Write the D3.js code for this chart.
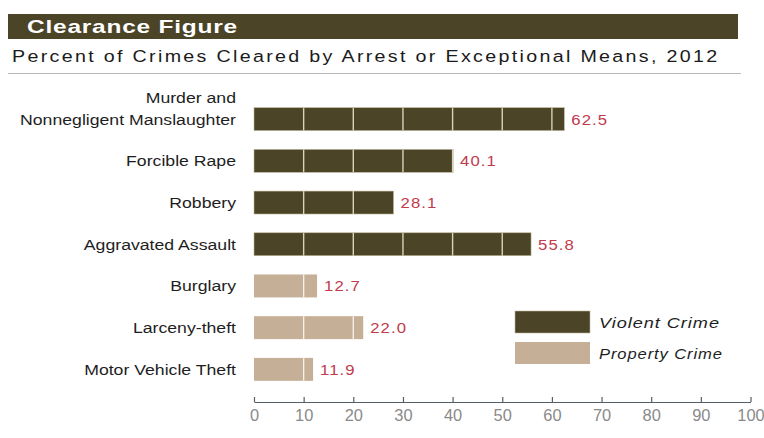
<!DOCTYPE html>
<html>
<head>
<meta charset="utf-8">
<script src="https://cdn.jsdelivr.net/npm/d3@7"></script>
<style>
  html, body { margin: 0; padding: 0; background: #fff; }
  svg { display: block; font-family: "Liberation Sans", Arial, sans-serif; }
</style>
</head>
<body>
<svg id="chart" width="764" height="438"></svg>
<script>
// Clearance rates, 2012
const categories = [
  ["Murder and", "Nonnegligent Manslaughter"],
  ["Forcible Rape"],
  ["Robbery"],
  ["Aggravated Assault"],
  ["Burglary"],
  ["Larceny-theft"],
  ["Motor Vehicle Theft"]
];
const values = [62.5, 40.1, 28.1, 55.8, 12.7, 22.0, 11.9];
const groups = ["Violent Crime", "Violent Crime", "Violent Crime", "Violent Crime",
                "Property Crime", "Property Crime", "Property Crime"];
const legendLabels = ["Violent Crime", "Property Crime"];
const xTicks = [0, 10, 20, 30, 40, 50, 60, 70, 80, 90, 100];

const dark = "#4b4426", light = "#c5af96", red = "#c23a4c";
const color = d3.scaleOrdinal().domain(legendLabels).range([dark, light]);
const WIDE = 1.155; // horizontal stretch of the lettering

const svg = d3.select("#chart");

// Places a text at (x, y) stretched horizontally by k
function place(sel, x, y, k) {
  return sel.attr("x", 0).attr("y", 0)
    .attr("transform", `translate(${x},${y}) scale(${k},1)`);
}
// Stretches a text so that it spans the given width
function fit(sel, x, y, width) {
  const w = sel.node().getComputedTextLength();
  return place(sel, x, y, width / w);
}

// Header band and subtitle
svg.append("rect").attr("x", 8).attr("y", 14).attr("width", 730).attr("height", 25).attr("fill", dark);
fit(svg.append("text").attr("fill", "#fff")
  .attr("font-size", 19).attr("font-weight", "bold").attr("letter-spacing", 0.6)
  .text("Clearance Figure"), 27, 33, 211);
fit(svg.append("text").attr("fill", "#1a1a1a")
  .attr("font-size", 17).attr("letter-spacing", 2)
  .text("Percent of Crimes Cleared by Arrest or Exceptional Means, 2012"), 12, 62, 708);
svg.append("line").attr("x1", 8).attr("x2", 741).attr("y1", 73.5).attr("y2", 73.5)
  .attr("stroke", "#b8b8b8").attr("stroke-width", 1.2);

const x = d3.scaleLinear().domain([0, 100]).range([254, 750.5]);
const idx = d3.range(values.length);
const y = d3.scaleBand().domain(idx).range([98.5, 390]).paddingInner(0.45).paddingOuter(0.22);

// Bars
const bars = svg.append("g");
bars.selectAll("rect").data(idx).join("rect")
  .attr("x", x(0))
  .attr("y", i => y(i))
  .attr("width", i => x(values[i]) - x(0))
  .attr("height", y.bandwidth())
  .attr("fill", i => color(groups[i]))
  .attr("stroke", i => groups[i] === "Violent Crime" ? "#bfb69a" : "none")
  .attr("stroke-width", 0.6);

// Light dividers at every 10 percent inside each bar
idx.forEach(i => {
  xTicks.filter(t => t > 0 && t < values[i]).forEach(t => {
    bars.append("line")
      .attr("x1", x(t)).attr("x2", x(t))
      .attr("y1", y(i)).attr("y2", y(i) + y.bandwidth())
      .attr("stroke", groups[i] === "Violent Crime" ? "#d9d2bc" : "#f4efe8")
      .attr("stroke-width", 1.4);
  });
});

// Value labels
svg.append("g").selectAll("text").data(idx).join("text")
  .attr("fill", red).attr("font-size", 15.5).attr("letter-spacing", 1)
  .text(i => values[i].toFixed(1))
  .each(function(i) {
    place(d3.select(this), x(values[i]) + 7, y(i) + y.bandwidth() / 2 + 5.5, 1.08);
  });

// Category labels
svg.append("g").selectAll("g").data(idx).join("g")
  .each(function(i) {
    const lines = categories[i];
    const cy = y(i) + y.bandwidth() / 2 + 5.5;
    lines.forEach((s, k) => {
      place(d3.select(this).append("text")
        .attr("text-anchor", "end").attr("fill", "#1e1e1e").attr("font-size", 15.3)
        .text(s), 236, cy - (lines.length - 1 - k) * 22, WIDE);
    });
  });

// Axis
const axis = svg.append("g").attr("transform", "translate(0,402)")
  .call(d3.axisBottom(x).tickValues(xTicks).tickSize(0).tickPadding(8).tickFormat(d3.format("d")));
axis.select(".domain").attr("stroke", "#555d66").attr("stroke-width", 1.2);
axis.selectAll(".tick line").attr("y1", -5).attr("y2", 0).attr("stroke", "#555d66").attr("stroke-width", 1.2);
axis.selectAll(".tick text").attr("fill", "#8a8a8a").attr("font-size", 15.8)
  .attr("font-family", "'Liberation Sans', Arial, sans-serif").attr("dy", "0.71em")
  .attr("transform", "scale(1.04,1)");

// Legend
const legendWidths = [121, 124];
const legend = svg.append("g").selectAll("g").data(legendLabels).join("g")
  .attr("transform", (d, k) => `translate(515,${311 + k * 31})`);
legend.append("rect").attr("width", 75).attr("height", 22)
  .attr("fill", d => color(d))
  .attr("stroke", d => d === "Violent Crime" ? "#bfb69a" : "none").attr("stroke-width", 0.6);
legend.append("text")
  .attr("fill", "#1e1e1e").attr("font-size", 15).attr("font-style", "italic").attr("letter-spacing", 0.8)
  .text(d => d)
  .each(function(d, k) { fit(d3.select(this), 84, 16.5, legendWidths[k]); });
</script>
</body>
</html>
